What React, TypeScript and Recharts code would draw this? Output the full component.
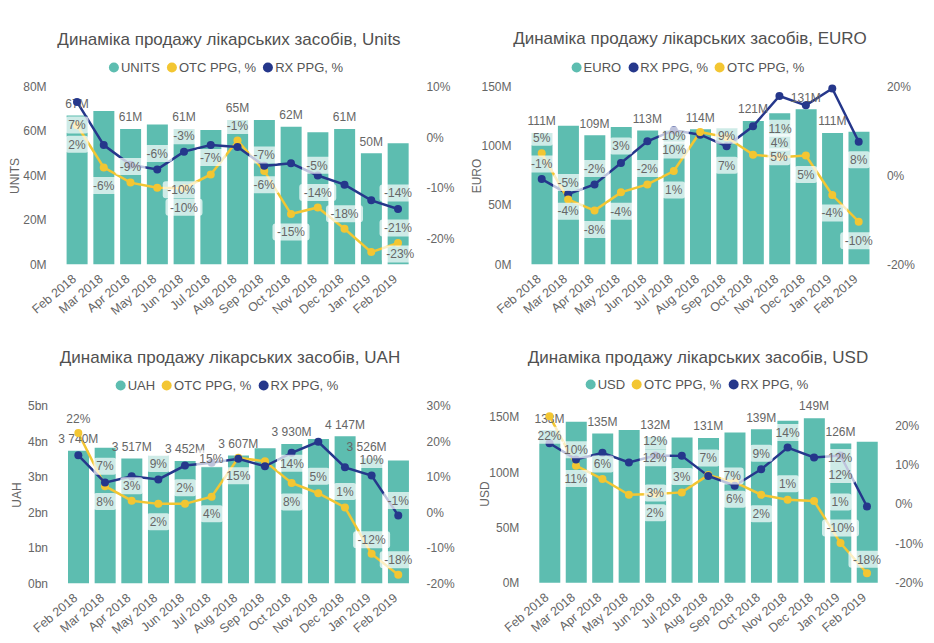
import React from "react";
import { ComposedChart, Bar, Line, XAxis, YAxis } from "recharts";

const months = [
  "Feb 2018", "Mar 2018", "Apr 2018", "May 2018", "Jun 2018", "Jul 2018", "Aug 2018",
  "Sep 2018", "Oct 2018", "Nov 2018", "Dec 2018", "Jan 2019", "Feb 2019",
];

// Units, millions
const unitsSales = [67, 69, 61, 63, 61, 60.5, 65, 65, 62, 59.5, 61, 50, 54.5];
const unitsRx = [7, -1.5, -5.4, -6.3, -2.8, -1.5, -1.9, -5.6, -5.1, -7.5, -9.3, -12.4, -14.1];
const unitsOtc = [2.4, -5.9, -8.9, -9.9, -10, -7.3, -0.6, -6.6, -15.1, -13.8, -18, -22.6, -20.8];
const unitsTicks = [0, 20, 40, 60, 80];
const unitsPctTicks = [-20, -10, 0, 10];

// EURO, millions
const euroSales = [111, 117, 109, 116, 113, 113, 114, 115, 121, 127.5, 131, 111, 112];
const euroRx = [-0.8, -4.2, -2.0, 2.8, 7.7, 10.2, 9.2, 6.6, 11.1, 17.9, 15.8, 19.6, 7.6];
const euroOtc = [5.0, -5.4, -7.9, -3.8, -2.0, 1.0, 9.8, 8.6, 4.7, 4.1, 4.5, -4.4, -10.4];
const euroTicks = [0, 50, 100, 150];
const euroPctTicks = [-20, 0, 20];

// UAH, millions
const uahSales = [3740, 3820, 3517, 3600, 3452, 3290, 3607, 3810, 3930, 4070, 4147, 3526, 3460];
const uahRx = [16.1, 8.4, 10.2, 9.3, 13.2, 14.0, 15.1, 13.0, 16.8, 19.9, 12.7, 10.4, -0.9];
const uahOtc = [22.4, 7.4, 3.3, 2.4, 2.4, 4.4, 15.4, 14.4, 8.3, 5.4, 1.4, -11.7, -17.6];
const uahTicks = [0, 1000, 2000, 3000, 4000, 5000];
const uahPctTicks = [-20, -10, 0, 10, 20, 30];

// USD, millions
const usdSales = [138, 145.8, 135, 138.3, 132, 131.5, 131, 135.9, 139, 146.7, 149, 126, 127.7];
const usdRx = [15.5, 11.4, 13.1, 10.6, 12.4, 12.3, 7.2, 4.7, 8.9, 14.4, 11.9, 12.4, -0.6];
const usdOtc = [22.4, 9.8, 6.4, 2.4, 2.6, 3.0, 7.4, 5.6, 2.4, 1.1, 0.8, -9.9, -17.6];
const usdTicks = [0, 50, 100, 150];
const usdPctTicks = [-20, -10, 0, 10, 20];

const TEAL = "#5dbdb0";
const NAVY = "#25378b";
const YELLOW = "#f3c632";
const TEXT = "#666";

type Offsets = Record<number, [number, number]>;
type SeriesKey = "value" | "rx" | "otc";

const colorOf: Record<SeriesKey, string> = { value: TEAL, rx: NAVY, otc: YELLOW };

const pct = (v: number) => `${Math.round(v)}%`;
const mFmt = (v: number) => `${v}M`;
const thousands = (v: number) => {
  const s = String(Math.round(v));
  return s.length > 3 ? `${s.slice(0, -3)} ${s.slice(-3)}M` : `${s}M`;
};

// boxed % label next to selected points of a line
const pointLabels = (key: string, offsets: Offsets) => (p: any) => {
  const off = offsets[p.index];
  if (!off || p.cx == null || p.cy == null) return <g key={`${key}-${p.index}`} />;
  const text = pct(p.payload[key]);
  const x = p.cx + off[0];
  const y = p.cy + off[1];
  const w = text.length * 7 + 9;
  return (
    <g key={`${key}-${p.index}`}>
      <rect x={x - w / 2} y={y - 8.5} width={w} height={17} rx={3} fill="#fff" fillOpacity={0.7} />
      <text x={x} y={y} dy="0.36em" textAnchor="middle" fontSize={12} fill={TEXT}>
        {text}
      </text>
    </g>
  );
};

// value labels on top of selected bars
const barLabels = (shown: Record<number, number>, fmt: (v: number) => string) => (p: any) => {
  const dx = shown[p.index];
  if (dx === undefined || p.cx == null) return <g key={`b-${p.index}`} />;
  return (
    <text key={`b-${p.index}`} x={p.cx + dx} y={p.cy - 12} dy="0.36em" textAnchor="middle" fontSize={12} fill={TEXT}>
      {fmt(p.payload.value)}
    </text>
  );
};

const MonthTick = (p: any) => (
  <g transform={`translate(${p.x},${p.y + 14}) rotate(-40)`}>
    <text x={0} y={0} textAnchor="end" fontSize={12.5} fill={TEXT}>
      {p.payload.value}
    </text>
  </g>
);

interface PanelProps {
  title: string;
  axisTitle: string;
  legend: { key: SeriesKey; name: string }[];
  sales: number[];
  rx: number[];
  otc: number[];
  left: number;
  top: number;
  width: number;
  height: number;
  plotTop: number;
  leftAxisW: number;
  rightAxisW: number;
  xAxisH: number;
  salesDomain: [number, number];
  salesTicks: number[];
  salesFmt: (v: number) => string;
  pctDomain: [number, number];
  pctTicks: number[];
  barFmt: (v: number) => string;
  barShown: Record<number, number>;
  rxLabels: Offsets;
  otcLabels: Offsets;
  titleX: number;
  titleY: number;
  legendX: number;
  legendY: number;
  axisTitleX: number;
}

const Panel = (props: PanelProps) => {
  const rows = months.map((m, i) => ({ month: m, value: props.sales[i], rx: props.rx[i], otc: props.otc[i] }));
  const lineKeys = props.legend.filter((l) => l.key !== "value").map((l) => l.key as "rx" | "otc");
  const plotMid = props.plotTop + (props.height - props.plotTop - props.xAxisH) / 2;
  return (
    <div style={{ position: "absolute", left: props.left, top: props.top, width: props.width, height: props.height }}>
      <ComposedChart
        width={props.width}
        height={props.height}
        data={rows}
        margin={{ top: props.plotTop, right: 0, bottom: 0, left: 0 }}
      >
        <XAxis
          dataKey="month"
          height={props.xAxisH}
          interval={0}
          axisLine={false}
          tickLine={false}
          tickSize={0}
          tick={<MonthTick />}
        />
        <YAxis
          yAxisId="s"
          orientation="left"
          width={props.leftAxisW}
          domain={props.salesDomain}
          ticks={props.salesTicks}
          tickFormatter={props.salesFmt}
          axisLine={false}
          tickLine={false}
          tickSize={0}
          tickMargin={17}
          tick={{ fontSize: 12, fill: TEXT }}
        />
        <YAxis
          yAxisId="p"
          orientation="right"
          width={props.rightAxisW}
          domain={props.pctDomain}
          ticks={props.pctTicks}
          tickFormatter={(v: number) => `${v}%`}
          axisLine={false}
          tickLine={false}
          tickSize={0}
          tickMargin={15}
          tick={{ fontSize: 12, fill: TEXT }}
        />
        <Bar yAxisId="s" dataKey="value" fill={TEAL} barSize={21} isAnimationActive={false} />
        <Line
          yAxisId="s"
          dataKey="value"
          stroke="none"
          dot={barLabels(props.barShown, props.barFmt)}
          activeDot={false}
          legendType="none"
          isAnimationActive={false}
        />
        {lineKeys.map((k) => (
          <Line
            key={k}
            yAxisId="p"
            dataKey={k}
            type="linear"
            stroke={colorOf[k]}
            strokeWidth={2.5}
            dot={{ r: 4, fill: colorOf[k], stroke: colorOf[k], strokeWidth: 0 }}
            activeDot={false}
            isAnimationActive={false}
          />
        ))}
        {lineKeys.map((k) => (
          <Line
            key={`lbl-${k}`}
            yAxisId="p"
            dataKey={k}
            stroke="none"
            dot={pointLabels(k, k === "rx" ? props.rxLabels : props.otcLabels)}
            activeDot={false}
            legendType="none"
            isAnimationActive={false}
          />
        ))}
      </ComposedChart>
      <div
        style={{
          position: "absolute",
          left: props.titleX,
          top: props.titleY,
          transform: "translate(-50%, -50%)",
          whiteSpace: "nowrap",
          fontSize: 17,
          color: "#505050",
        }}
      >
        {props.title}
      </div>
      <div
        style={{
          position: "absolute",
          left: props.legendX,
          top: props.legendY,
          transform: "translate(-50%, -50%)",
          display: "flex",
          gap: 7,
          whiteSpace: "nowrap",
          fontSize: 13,
          color: "#555",
        }}
      >
        {props.legend.map((l) => (
          <span key={l.key} style={{ display: "flex", alignItems: "center" }}>
            <span
              style={{
                display: "inline-block",
                width: 10,
                height: 10,
                borderRadius: 5,
                background: colorOf[l.key],
                marginRight: 2,
              }}
            />
            {l.name}
          </span>
        ))}
      </div>
      <div
        style={{
          position: "absolute",
          left: props.axisTitleX,
          top: plotMid,
          transform: "translate(-50%, -50%) rotate(-90deg)",
          whiteSpace: "nowrap",
          fontSize: 12,
          color: TEXT,
        }}
      >
        {props.axisTitle}
      </div>
    </div>
  );
};

const App = () => (
  <div
    style={{
      position: "absolute",
      left: 0,
      top: 0,
      width: 934,
      height: 643,
      background: "#fff",
      fontFamily: '"Liberation Sans", Arial, sans-serif',
    }}
  >
    <Panel
      title="Динаміка продажу лікарських засобів, Units"
      axisTitle="UNITS"
      legend={[
        { key: "value", name: "UNITS" },
        { key: "otc", name: "OTC PPG, %" },
        { key: "rx", name: "RX PPG, %" },
      ]}
      sales={unitsSales}
      rx={unitsRx}
      otc={unitsOtc}
      left={0}
      top={0}
      width={465}
      height={320}
      plotTop={86.7}
      leftAxisW={63.6}
      rightAxisW={53.6}
      xAxisH={55.7}
      salesDomain={[0, 80]}
      salesTicks={unitsTicks}
      salesFmt={mFmt}
      pctDomain={[-25, 10]}
      pctTicks={unitsPctTicks}
      barFmt={(v) => `${Math.round(v)}M`}
      barShown={{ 0: 0, 2: 0, 4: 0, 6: 0, 8: 0, 10: 0, 11: 0 }}
      rxLabels={{ 0: [0, 23], 3: [0, -16], 4: [0, -16], 7: [0, 19], 8: [26, 2], 12: [0, -16] }}
      otcLabels={{
        0: [0, 19], 1: [0, 18], 2: [0, -16], 3: [24, 2], 4: [0, 19], 5: [0, -17], 6: [0, -15],
        7: [0, -16], 8: [0, 18], 9: [0, -15], 10: [0, -15], 11: [29, 2], 12: [0, -15],
      }}
      titleX={229}
      titleY={40}
      legendX={226}
      legendY={67}
      axisTitleX={15}
    />
    <Panel
      title="Динаміка продажу лікарських засобів, EURO"
      axisTitle="EURO"
      legend={[
        { key: "value", name: "EURO" },
        { key: "rx", name: "RX PPG, %" },
        { key: "otc", name: "OTC PPG, %" },
      ]}
      sales={euroSales}
      rx={euroRx}
      otc={euroOtc}
      left={465}
      top={0}
      width={469}
      height={320}
      plotTop={86.7}
      leftAxisW={63.5}
      rightAxisW={62.1}
      xAxisH={55.7}
      salesDomain={[0, 150]}
      salesTicks={euroTicks}
      salesFmt={mFmt}
      pctDomain={[-20, 20]}
      pctTicks={euroPctTicks}
      barFmt={(v) => `${Math.round(v)}M`}
      barShown={{ 0: 0, 2: 0, 4: 0, 6: 0, 8: 0, 10: 0, 11: 0 }}
      rxLabels={{ 0: [0, -15], 1: [0, 17], 2: [0, -16], 3: [0, -17], 5: [0, 5], 7: [0, 19], 8: [27, 2], 12: [0, 18] }}
      otcLabels={{
        0: [0, -16], 1: [0, -17], 2: [0, 19], 3: [0, 19], 4: [0, -16], 5: [0, 19], 6: [-26, 18],
        7: [0, -2], 8: [26, 2], 9: [0, -15], 10: [0, 19], 11: [0, 18], 12: [0, 19],
      }}
      titleX={225}
      titleY={39}
      legendX={223}
      legendY={67}
      axisTitleX={12}
    />
    <Panel
      title="Динаміка продажу лікарських засобів, UAH"
      axisTitle="UAH"
      legend={[
        { key: "value", name: "UAH" },
        { key: "otc", name: "OTC PPG, %" },
        { key: "rx", name: "RX PPG, %" },
      ]}
      sales={uahSales}
      rx={uahRx}
      otc={uahOtc}
      left={0}
      top={320}
      width={465}
      height={323}
      plotTop={86}
      leftAxisW={65}
      rightAxisW={53.4}
      xAxisH={59.7}
      salesDomain={[0, 5000]}
      salesTicks={uahTicks}
      salesFmt={(v) => `${v / 1000}bn`}
      pctDomain={[-20, 30]}
      pctTicks={uahPctTicks}
      barFmt={thousands}
      barShown={{ 0: 0, 2: 0, 4: 0, 6: 0, 8: 0, 10: 0, 11: -5 }}
      rxLabels={{ 1: [0, 19], 3: [0, -16], 6: [-27, 0], 11: [0, -16], 12: [0, -15] }}
      otcLabels={{
        0: [0, -14], 1: [0, -20], 2: [0, -15], 3: [0, 18], 4: [0, -16], 5: [0, 17], 6: [0, 18],
        7: [27, 2], 8: [0, 19], 9: [0, -17], 10: [0, -16], 11: [0, -14], 12: [0, -15],
      }}
      titleX={230}
      titleY={38}
      legendX={227}
      legendY={65}
      axisTitleX={17}
    />
    <Panel
      title="Динаміка продажу лікарських засобів, USD"
      axisTitle="USD"
      legend={[
        { key: "value", name: "USD" },
        { key: "otc", name: "OTC PPG, %" },
        { key: "rx", name: "RX PPG, %" },
      ]}
      sales={usdSales}
      rx={usdRx}
      otc={usdOtc}
      left={465}
      top={320}
      width={469}
      height={323}
      plotTop={86}
      leftAxisW={71.3}
      rightAxisW={53.8}
      xAxisH={60.3}
      salesDomain={[0, 160]}
      salesTicks={usdTicks}
      salesFmt={mFmt}
      pctDomain={[-20, 25]}
      pctTicks={usdPctTicks}
      barFmt={(v) => `${Math.round(v)}M`}
      barShown={{ 0: 0, 2: 0, 4: 0, 6: 0, 8: 0, 10: 0, 11: 0 }}
      rxLabels={{ 1: [0, 19], 4: [0, -15], 5: [-27, 2], 6: [0, -18], 8: [0, -16], 9: [0, -15], 10: [26, 0], 11: [0, 19] }}
      otcLabels={{
        0: [0, 19], 1: [0, -16], 2: [0, -15], 3: [26, 18], 4: [0, -1], 5: [0, -16], 6: [24, 1],
        7: [0, 17], 8: [0, 19], 9: [0, -16], 10: [26, 1], 11: [0, -15], 12: [0, -14],
      }}
      titleX={233}
      titleY={38}
      legendX={232}
      legendY={64}
      axisTitleX={20}
    />
  </div>
);

export default App;
